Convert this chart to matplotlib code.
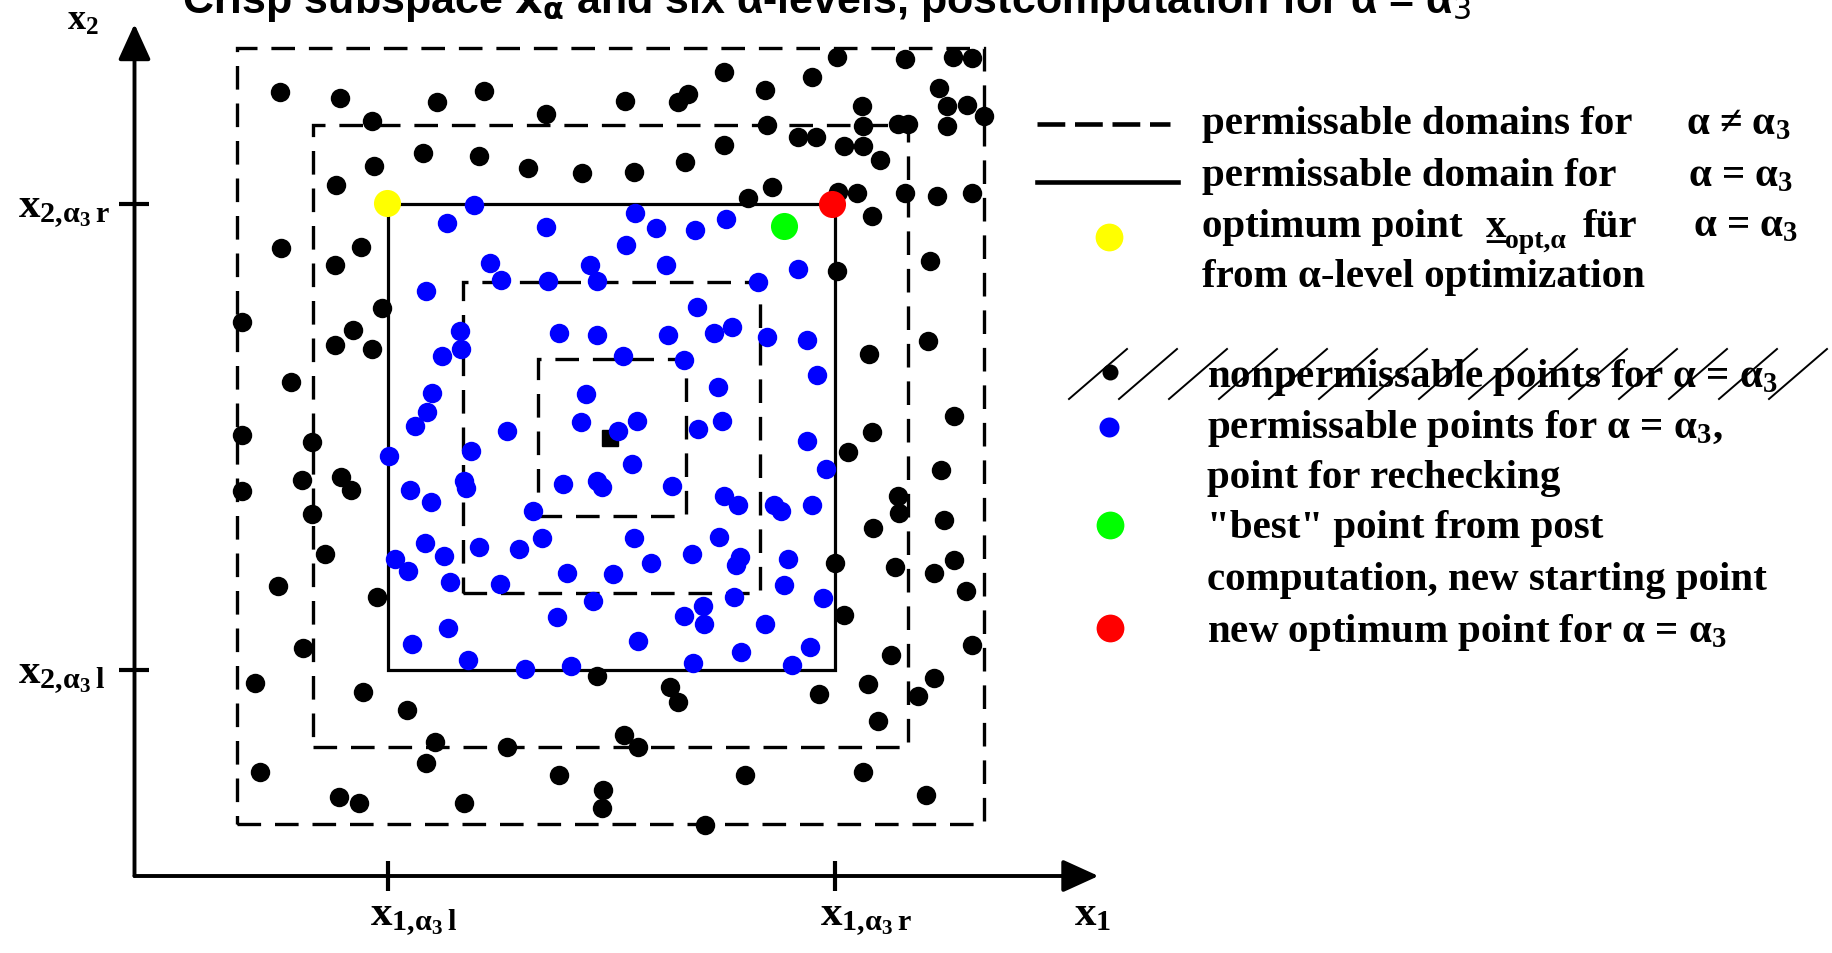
import numpy as np
import matplotlib
matplotlib.use('Agg')
import matplotlib.pyplot as plt
from matplotlib.patches import Rectangle

plt.rcParams['mathtext.fontset'] = 'custom'
plt.rcParams['mathtext.rm'] = 'Liberation Serif:bold'
plt.rcParams['mathtext.it'] = 'Liberation Serif:bold'
plt.rcParams['mathtext.bf'] = 'Liberation Serif:bold'
plt.rcParams['lines.scale_dashes'] = False

# ---------------- data ----------------
# nested alpha-level domains (outer -> inner); index 2 is alpha = alpha_3 (solid)
box_x1_lo = [10.3, 17.85, 25.3, 32.8, 40.3]
box_x1_hi = [84.95, 77.3, 70.05, 62.5, 55.15]
box_x2_lo = [5.25, 12.87, 20.6, 28.3, 36.0]
box_x2_hi = [82.8, 75.1, 67.25, 59.4, 51.75]
solid_idx = 2

black_x1 = [14.58, 20.52, 23.72, 30.25, 34.98, 41.15, 23.92, 28.88, 34.42, 39.38, 44.72, 20.15, 14.68, 22.65, 20.02,
            70.22, 77.05, 81.82, 83.78, 58.98, 67.72, 63.08, 49.08, 55.38, 54.38, 80.42, 72.78, 81.22, 83.22, 84.95,
            63.28, 72.88, 76.38, 77.38, 81.22, 58.98, 66.32, 68.12, 70.92, 72.88, 74.52, 49.92, 55.05, 63.75, 61.38,
            70.38, 72.28, 77.05, 80.22, 83.78, 73.78, 79.55, 70.28,
            10.78, 24.72, 21.82, 20.05, 23.72, 15.65, 10.72, 17.78, 16.72, 20.62, 21.65, 10.78, 17.78, 19.05,
            79.38, 73.48, 81.98, 73.72, 71.38, 80.62, 76.38, 76.45, 80.92, 73.82, 70.08, 76.05, 81.98, 79.92,
            14.32, 24.28, 16.82, 12.08, 22.82, 27.22, 30.05, 37.28, 29.15, 12.52, 20.42, 22.42, 32.92, 42.42,
            46.82, 46.72, 46.22,
            70.98, 83.12, 83.72, 75.68, 79.92, 78.38, 73.38, 68.42, 53.58, 54.35, 74.38, 48.98, 50.32, 61.08,
            72.88, 79.15, 57.05]
black_x2 = [78.37, 77.77, 75.47, 77.37, 78.53, 76.17, 71.03, 72.3, 72.0, 70.83, 70.33, 69.13, 62.8, 62.9, 61.13,
            81.87, 81.7, 81.87, 81.77, 80.43, 79.93, 78.6, 77.53, 78.2, 77.37, 78.83, 76.97, 77.0, 77.07, 75.97,
            75.07, 74.97, 75.17, 75.17, 74.97, 73.07, 73.87, 73.93, 73.0, 73.0, 71.6, 70.43, 71.37, 68.93, 67.83,
            68.37, 68.27, 68.27, 67.97, 68.27, 66.03, 61.53, 60.53,
            55.37, 56.8, 54.63, 53.1, 52.7, 49.37, 44.13, 43.43, 39.6, 39.87, 38.6, 38.5, 36.2, 32.2,
            53.53, 52.2, 46.03, 44.37, 42.37, 40.63, 38.03, 36.3, 35.6, 34.83, 31.3, 30.9, 31.6, 30.27,
            28.97, 27.87, 22.77, 19.3, 18.37, 16.6, 13.43, 12.87, 11.27, 10.37, 7.93, 7.3, 7.33, 10.13,
            8.63, 6.8, 19.97,
            26.1, 28.53, 23.13, 22.1, 19.8, 18.0, 19.2, 18.2, 18.93, 17.43, 15.53, 14.1, 12.87, 10.1,
            10.37, 8.07, 5.1]

blue_x1 = [33.92, 31.25, 41.12, 35.58, 36.68, 41.35, 45.52, 46.22, 29.15,
           50.08, 52.15, 56.05, 59.12, 49.12, 53.15, 66.32, 62.38, 56.22,
           32.55, 32.65, 30.75, 42.42, 46.28, 29.75, 29.28, 28.08, 45.12, 44.62, 37.28, 33.62, 25.48, 32.95,
           33.12, 27.58, 29.65, 42.82, 46.22, 46.75, 39.85, 40.78, 29.05, 30.95, 34.48, 38.48, 26.08, 27.35,
           53.35, 57.95, 59.78, 63.28, 67.22, 48.88, 54.98, 68.25, 58.32, 50.25, 48.32, 56.32, 58.72, 67.25,
           49.78, 53.75, 58.95, 60.38, 63.95, 64.65, 67.75, 69.15, 49.98, 58.42, 55.72, 60.5, 60.15, 65.35,
           51.68, 47.8,
           31.52, 36.55, 43.25, 45.82, 42.25, 31.32, 27.75, 33.32, 39.05, 43.62,
           64.92, 68.85, 59.92, 56.85, 56.95, 54.95, 63.08, 50.38, 60.68, 67.52, 55.85, 65.75]
blue_x2 = [67.07, 65.27, 64.93, 61.33, 59.63, 59.47, 61.13, 59.5, 58.5,
           66.3, 64.77, 64.57, 65.67, 63.07, 61.1, 60.73, 59.4, 56.9,
           54.47, 52.7, 52.03, 54.27, 54.1, 48.27, 46.43, 45.03, 48.2, 45.37, 44.53, 42.47, 42.03, 39.53,
           38.77, 38.63, 37.37, 39.2, 39.53, 38.9, 36.47, 33.83, 33.27, 32.0, 32.87, 32.7, 31.7, 30.53,
           54.1, 54.27, 54.87, 53.87, 53.63, 51.97, 51.6, 50.13, 48.9, 45.47, 44.47, 44.7, 45.53, 43.47,
           41.23, 39.03, 38.03, 37.13, 37.13, 36.47, 37.13, 40.7, 33.77, 33.87, 32.2, 31.9, 31.1, 31.75,
           31.3, 30.25,
           29.4, 29.2, 30.3, 27.53, 25.93, 24.77, 23.2, 21.6, 20.73, 21.0,
           29.13, 27.8, 27.9, 27.03, 25.2, 25.97, 25.23, 23.53, 22.37, 22.87, 21.3, 21.1]

opt_point = (25.28, 67.27)      # yellow: optimum from alpha-level optimization
best_point = (64.98, 65.03)     # green: best point from post computation
new_opt_point = (69.72, 67.23)  # red: new optimum point
center_point = (47.55, 43.8)    # black square

x1_ticks = [box_x1_lo[solid_idx], box_x1_hi[solid_idx]]
x2_ticks = [box_x2_lo[solid_idx], box_x2_hi[solid_idx]]
x1_ticklabels = [r'$x_{1,\!\alpha_3\, l}$', r'$x_{1,\!\alpha_3\, r}$']
x2_ticklabels = [r'$x_{2,\!\alpha_3\, l}$', r'$x_{2,\!\alpha_3\, r}$']

legend_top = ['permissable domains for', 'permissable domain for']
legend_top_alpha = [r'α ≠ α$_3$', r'α = α$_3$']
legend_bottom = [r'nonpermissable points for α = α$_3$', r'permissable points for α = α$_3$,',
                 'point for rechecking', '"best" point from post',
                 'computation, new starting point', r'new optimum point for α = α$_3$']

# ---------------- figure ----------------
fig = plt.figure(figsize=(18.33, 9.54), dpi=100)
ax = fig.add_axes([0, 0, 1, 1])
ax.set_xlim(-13.45, 169.85)
ax.set_ylim(-7.7, 87.7)
ax.axis('off')

DASH = (0, (17, 10))
for i, (l, r, b, t) in enumerate(zip(box_x1_lo, box_x1_hi, box_x2_lo, box_x2_hi)):
    if i == solid_idx:
        ax.add_patch(Rectangle((l, b), r - l, t - b, fill=False, lw=2.3, ls='-', ec='black', zorder=2))
    else:
        ax.add_patch(Rectangle((l, b), r - l, t - b, fill=False, lw=2.4, ls=DASH, ec='black', zorder=2))

ax.plot(*center_point, 's', ms=11, color='black', zorder=2.5)
ax.plot(black_x1, black_x2, 'o', ms=14, color='black', mew=0, zorder=3)
ax.plot(blue_x1, blue_x2, 'o', ms=14, color='#0000FF', mew=0, zorder=3)
ax.plot(*opt_point, 'o', ms=19.5, color='#FFFF00', mew=0, zorder=4)
ax.plot(*best_point, 'o', ms=19.5, color='#00FF00', mew=0, zorder=4)
ax.plot(*new_opt_point, 'o', ms=19.5, color='#FF0000', mew=0, zorder=4)

# coordinate axes
arrow_style = '-|>,head_length=1.1,head_width=0.5'
ax.annotate('', xy=(0, 85.2), xytext=(0, 0),
            arrowprops=dict(arrowstyle=arrow_style, mutation_scale=20, lw=2.8, color='black',
                            shrinkA=0, shrinkB=0))
ax.annotate('', xy=(96.4, 0), xytext=(0, 0),
            arrowprops=dict(arrowstyle=arrow_style, mutation_scale=20, lw=2.8, color='black',
                            shrinkA=0, shrinkB=0))
ax.plot(x1_ticks, [0, 0], ls='none', marker='|', ms=22, mew=3, color='black')
ax.plot([0, 0], x2_ticks, ls='none', marker='_', ms=22, mew=3, color='black')

lab_kw = dict(fontsize=31, ha='left', va='baseline', color='black')
ax.text(-11.65, 19.32, x2_ticklabels[0], **lab_kw)
ax.text(-11.65, 65.96, x2_ticklabels[1], **lab_kw)
ax.text(23.55, -4.8, x1_ticklabels[0], **lab_kw)
ax.text(68.55, -4.8, x1_ticklabels[1], **lab_kw)
ax.text(93.95, -4.8, r'$x_1$', **lab_kw)
ax.text(-6.75, 84.7, r'$x_2$', fontsize=26, ha='left', va='baseline')

# title (partially cut off at the top of the image)
fig.text(827 / 1833, 1 - 13 / 954,
         r'Crisp subspace $\mathbf{x}_{\mathbf{\alpha}}$ and six α-levels, postcomputation for α = α$_3$',
         fontfamily='Liberation Sans', fontweight='bold', fontsize=31, ha='center', va='baseline',
         math_fontfamily='dejavusans')

# ---------------- legend ----------------
tk = dict(fontfamily='Liberation Serif', fontweight='bold', fontsize=29.5, ha='left', va='baseline',
          color='black')
ax.plot([90.25, 103.55], [75.2, 75.2], ls=(0, (20, 7)), lw=3.3, color='black')
ax.plot([90.25, 104.35], [69.43, 69.43], ls='-', lw=3.3, color='black')
ax.text(106.75, 74.27, legend_top[0], **tk)
ax.text(155.15, 74.27, legend_top_alpha[0], **tk)
ax.text(106.75, 69.1, legend_top[1], **tk)
ax.text(155.35, 69.1, legend_top_alpha[1], **tk)

ax.plot(97.45, 63.87, 'o', ms=20, color='#FFFF00', mew=0)
ax.text(106.75, 64.03, 'optimum point', **tk)
ax.text(135.15, 64.03, 'x', **tk)
ax.text(135.15, 64.03, '_', **tk)
tks = dict(tk)
tks['fontsize'] = 20
ax.text(137.05, 62.9, 'opt,α', **tks)
ax.text(144.85, 64.03, 'für', **tk)
ax.text(155.85, 64.03, legend_top_alpha[1], **tk)
ax.text(106.75, 59.03, 'from α-level optimization', **tk)

# struck-through (hatched) entry
hatch_x0, hatch_step, hatch_n = 93.45, 5.0, 15
for k in range(hatch_n):
    x0 = hatch_x0 + k * hatch_step
    ax.plot([x0, x0 + 5.8], [47.7, 52.7], lw=1.4, color='black', zorder=5)
ax.plot(97.55, 50.37, 'o', ms=11.5, color='black', mew=0)
ax.plot(97.45, 44.93, 'o', ms=14.4, color='#0000FF', mew=0)
ax.plot(97.5, 35.1, 'o', ms=20, color='#00FF00', mew=0)
ax.plot(97.5, 24.77, 'o', ms=20, color='#FF0000', mew=0)

for txt, yb in zip(legend_bottom, [49.03, 43.87, 38.87, 33.87, 28.7, 23.53]):
    ax.text(107.25, yb, txt, **tk)

fig.savefig('out.png', dpi=100)
